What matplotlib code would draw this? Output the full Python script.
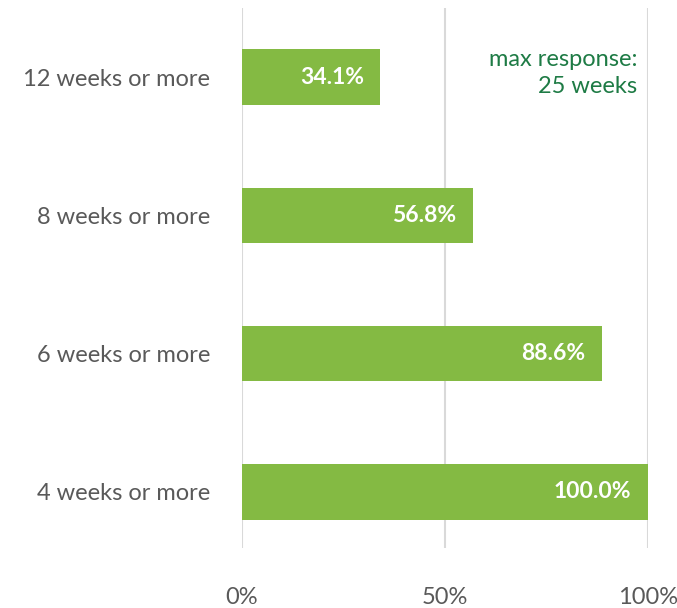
import matplotlib.pyplot as plt
import matplotlib.ticker as mtick

# data
categories = ['4 weeks or more', '6 weeks or more', '8 weeks or more', '12 weeks or more']
values = [100.0, 88.6, 56.8, 34.1]
note = 'max response:\n25 weeks'

plt.rcParams['font.family'] = ['Lato', 'DejaVu Sans']

fig = plt.figure(figsize=(6.77, 6.08), dpi=100)
ax = fig.add_axes([0.3575, 0.0987, 0.5997, 0.8882])

ypos = range(len(categories))
ax.barh(ypos, values, height=0.4, color='#84BA43', zorder=2)

for y, v in zip(ypos, values):
    ax.annotate('%.1f%%' % v, (v, y), xytext=(-12, 0), textcoords='offset points',
                ha='right', va='center', color='white', fontsize=16.5, fontweight='bold', zorder=3)

ax.text(97.3, 3.03, note, ha='right', va='center', multialignment='right',
        color='#1E7B45', fontsize=17, linespacing=1.3)

ax.set_xlim(0, 100)
ax.set_ylim(-0.405, 3.5)
ax.set_xticks([0, 50, 100])
ax.xaxis.set_major_formatter(mtick.PercentFormatter(decimals=0))
ax.set_yticks(list(ypos))
ax.set_yticklabels(categories)
ax.grid(axis='x', color='#D9D9D9', linewidth=1.5, zorder=0)
ax.tick_params(length=0, labelsize=17, colors='#595959')
ax.tick_params(axis='y', pad=23)
ax.tick_params(axis='x', pad=28)
for s in ax.spines.values():
    s.set_visible(False)

fig.savefig('out.png', dpi=100)
